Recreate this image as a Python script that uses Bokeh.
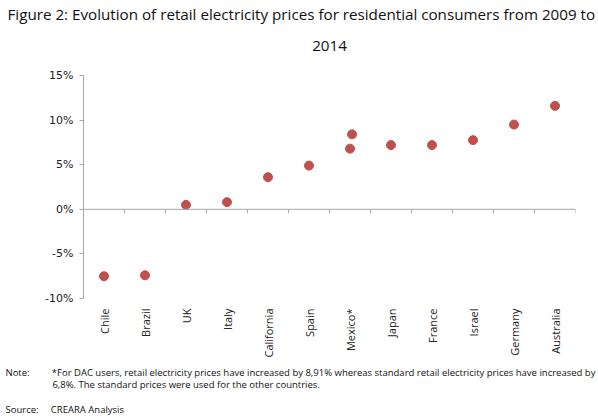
import math
from bokeh.plotting import figure
from bokeh.models import Span, Title, FixedTicker, ColumnDataSource
from bokeh.embed import file_html
from bokeh.resources import INLINE

countries = ["Chile", "Brazil", "UK", "Italy", "California", "Spain", "Mexico*",
             "Japan", "France", "Israel", "Germany", "Australia"]
values = [-7.5, -7.4, 0.5, 0.8, 3.6, 4.9, 6.8, 7.2, 7.2, 7.75, 9.5, 11.6]
extra_country = ["Mexico*"]
extra_values = [8.4]
y_ticks = [-10, -5, 0, 5, 10, 15]
y_tick_labels = ["-10%", "-5%", "0%", "5%", "10%", "15%"]

FONT = "Open Sans"
RED = "#C0504D"
GREY = "#A6A6A6"

FL = 83  # frame left in canvas pixels
NB = "\u00a0"

xs = [i + 0.5 for i in range(len(countries))]
src = ColumnDataSource(dict(x=xs, y=values))
ex = [countries.index(c) + 0.55 for c in extra_country]
src2 = ColumnDataSource(dict(x=ex, y=extra_values))

p = figure(width=598, height=420, output_backend="svg", toolbar_location=None,
           x_range=(0, len(countries)), y_range=(-10, 15),
           min_border_left=FL, min_border_right=23, min_border_top=75,
           min_border_bottom=122)
p.outline_line_color = None
p.grid.visible = False
p.background_fill_color = "white"

p.scatter("x", "y", source=src, size=9, color=RED, line_color=RED)
p.scatter("x", "y", source=src2, size=9, color=RED, line_color=RED)

# zero line with category separators
p.add_layout(Span(location=0, dimension="width", line_color=GREY, line_width=1))
bounds = list(range(1, len(countries) + 1))
p.segment(x0=bounds, y0=[0] * len(bounds), x1=bounds, y1=[-0.45] * len(bounds),
          line_color=GREY, line_width=1)

# x axis: only labels
xa = p.xaxis[0]
xa.ticker = FixedTicker(ticks=xs)
xa.major_label_overrides = {x: c for x, c in zip(xs, countries)}
xa.major_label_orientation = math.pi / 2
xa.axis_line_color = None
xa.major_tick_line_color = None
xa.minor_tick_line_color = None
xa.major_label_text_font = FONT
xa.major_label_text_font_size = "11px"
xa.major_label_text_color = "#222222"
xa.major_label_standoff = 4

ya = p.yaxis[0]
ya.ticker = FixedTicker(ticks=y_ticks)
ya.major_label_overrides = {t: l for t, l in zip(y_ticks, y_tick_labels)}
ya.axis_line_color = GREY
ya.major_tick_line_color = GREY
ya.major_tick_out = 4
ya.major_tick_in = 0
ya.minor_tick_line_color = None
ya.major_label_text_font = "DejaVu Sans"
ya.major_label_text_font_size = "11px"
ya.major_label_text_color = "#222222"
ya.major_label_standoff = 6

def style(t, size):
    t.text_font = FONT
    t.text_font_size = size
    t.text_font_style = "normal"
    t.text_color = "#111111"

# title lines
p.title.text = "Figure 2: Evolution of retail electricity prices for residential consumers from 2009 to"
p.title.align = "left"
p.title.offset = 7 - FL
p.title.standoff = -18
style(p.title, "15.2px")
t2 = Title(text="2014", align="center", standoff=49)
style(t2, "15.2px")
p.add_layout(t2, "above")

# notes below
note_text = "\n".join([
    "Note:" + NB * 9 + "*For DAC users, retail electricity  prices have increased by 8,91% "
    "whereas standard retail electricity prices have increased by",
    NB * 19 + "6,8%. The standard prices were used for the other countries.",
    NB,
    "Source:" + NB * 5 + "CREARA Analysis",
])
tn = Title(text=note_text, align="left", offset=5 - FL, standoff=7)
style(tn, "9.5px")
tn.text_line_height = 0.95
p.add_layout(tn, "below")

open("out.html", "w").write(file_html(p, INLINE))
